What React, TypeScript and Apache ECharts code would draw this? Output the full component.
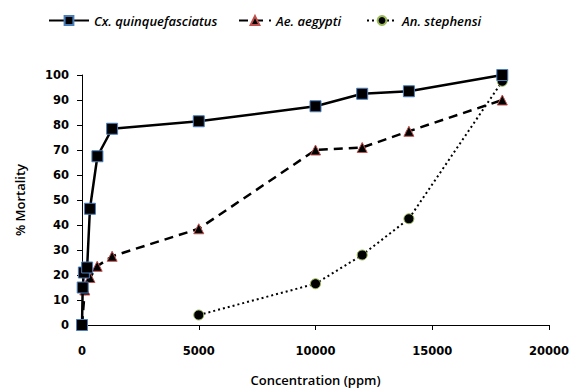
import React, { useEffect, useRef } from "react";
import * as echarts from "echarts";

const seriesNames = ["Cx. quinquefasciatus", "Ae. aegypti", "An. stephensi"];

const cxData: [number, number][] = [
  [0, 0], [30, 15], [80, 21], [220, 23], [340, 46.5], [660, 67.5], [1290, 78.5],
  [5000, 81.5], [10000, 87.5], [12000, 92.5], [14000, 93.5], [18000, 100],
];
const aeData: [number, number][] = [
  [0, 0], [120, 14], [340, 19], [650, 23.5], [1290, 27.5],
  [5000, 38.5], [10000, 70], [12000, 71], [14000, 77.5], [18000, 90],
];
const anData: [number, number][] = [
  [5000, 4], [10000, 16.5], [12000, 28], [14000, 42.5], [18000, 97.5],
];

const xName = "Concentration (ppm)";
const yName = "% Mortality";

export default function App() {
  const ref = useRef<HTMLDivElement>(null);
  useEffect(() => {
    if (!ref.current) return;
    const chart = echarts.init(ref.current, null, { renderer: "svg" });
    const legendText = {
      fontFamily: "Open Sans",
      fontStyle: "italic" as const,
      fontWeight: 600 as const,
      fontSize: 13,
      color: "#000",
    };
    const axisLabel = {
      fontFamily: "DejaVu Sans",
      fontWeight: "bold" as const,
      fontSize: 11.5,
      color: "#000",
    };
    chart.setOption({
      animation: false,
      backgroundColor: "#fff",
      legend: [
        { data: [seriesNames[0]], left: 43, top: 9, itemWidth: 40, itemHeight: 11, textStyle: legendText },
        { data: [seriesNames[1]], left: 233, top: 9, itemWidth: 32, itemHeight: 11, textStyle: legendText },
        { data: [seriesNames[2]], left: 361, top: 9, itemWidth: 30, itemHeight: 11, textStyle: legendText },
      ],
      grid: { left: 82, right: 20, top: 75, bottom: 63, containLabel: false, outerBoundsMode: "none" },
      xAxis: {
        type: "value",
        min: 0,
        max: 20000,
        interval: 5000,
        name: xName,
        nameLocation: "middle",
        nameGap: 48,
        nameTextStyle: { fontFamily: "Open Sans", fontWeight: 600, fontSize: 13, color: "#000" },
        axisLine: { show: true, lineStyle: { color: "#000", width: 1 } },
        axisTick: { show: true, length: 5, lineStyle: { color: "#000" } },
        splitLine: { show: false },
        axisLabel: { ...axisLabel, margin: 20, formatter: (v: number) => String(v) },
      },
      yAxis: {
        type: "value",
        min: 0,
        max: 100,
        interval: 10,
        name: yName,
        nameLocation: "middle",
        nameGap: 56,
        nameRotate: 90,
        nameTextStyle: { fontFamily: "Open Sans", fontWeight: 600, fontSize: 13, color: "#000" },
        axisLine: { show: true, lineStyle: { color: "#000", width: 1 } },
        axisTick: { show: true, length: 5, lineStyle: { color: "#000" } },
        splitLine: { show: false },
        axisLabel: { ...axisLabel, margin: 13 },
      },
      series: [
        {
          name: seriesNames[0],
          type: "line",
          data: cxData,
          symbol: "rect",
          symbolSize: 11,
          itemStyle: { color: "#000", borderColor: "#4a7ebb", borderWidth: 1 },
          lineStyle: { color: "#000", width: 2.5, type: "solid" },
          z: 3,
        },
        {
          name: seriesNames[1],
          type: "line",
          data: aeData,
          symbol: "triangle",
          symbolSize: 10,
          itemStyle: { color: "#000", borderColor: "#c0504d", borderWidth: 1 },
          lineStyle: { color: "#000", width: 2.5, type: [9, 6] },
          z: 2,
        },
        {
          name: seriesNames[2],
          type: "line",
          data: anData,
          symbol: "circle",
          symbolSize: 10,
          itemStyle: { color: "#000", borderColor: "#9bbb59", borderWidth: 1 },
          lineStyle: { color: "#000", width: 2, type: [2, 3] },
          z: 1,
        },
      ],
    });
    return () => chart.dispose();
  }, []);
  return <div ref={ref} style={{ width: 569, height: 388, position: "absolute", left: 0, top: 0 }} />;
}
